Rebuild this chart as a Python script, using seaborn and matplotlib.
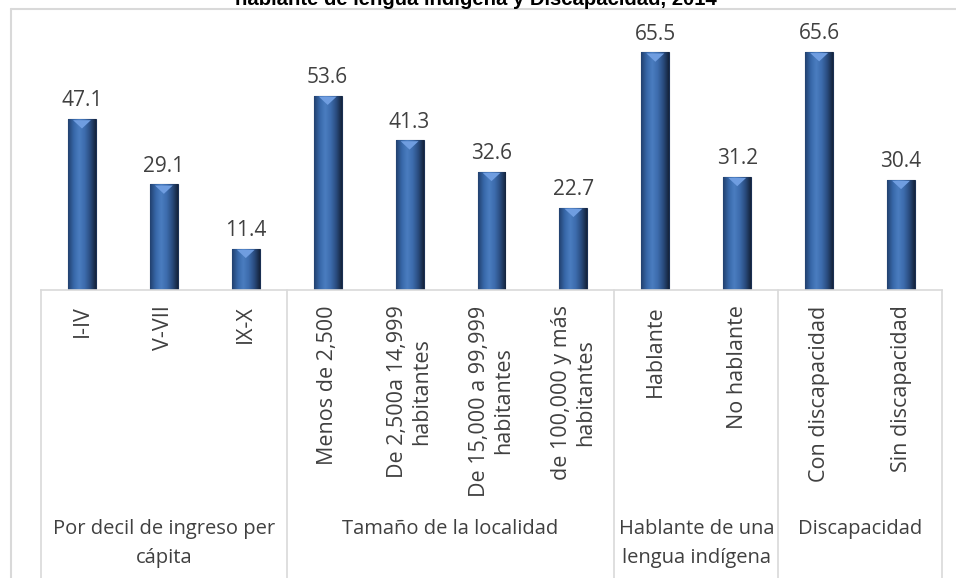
import numpy as np
import pandas as pd
import matplotlib
matplotlib.use("Agg")
import matplotlib.pyplot as plt
from matplotlib.colors import LinearSegmentedColormap
from matplotlib.lines import Line2D
from matplotlib.patches import Polygon
import seaborn as sns

categories = ["I-IV", "V-VII", "IX-X",
              "Menos de 2,500", "De 2,500a 14,999\nhabitantes",
              "De 15,000 a 99,999\nhabitantes", "de 100,000 y más\nhabitantes",
              "Hablante", "No hablante",
              "Con discapacidad", "Sin discapacidad"]
values = [47.1, 29.1, 11.4, 53.6, 41.3, 32.6, 22.7, 65.5, 31.2, 65.6, 30.4]
group_names = ["Por decil de ingreso per\ncápita", "Tamaño de la localidad",
               "Hablante de una\nlengua indígena", "Discapacidad"]
group_sizes = [3, 4, 2, 2]
title = "hablante de lengua indígena y Discapacidad, 2014"

df = pd.DataFrame({"cat": categories, "val": values})

sns.set_style("white")
plt.rcParams["font.family"] = ["Open Sans", "DejaVu Sans"]
text_color = "#404040"
line_color = "#d9d9d9"

fig = plt.figure(figsize=(9.56, 5.78), dpi=100)
W, H = 956, 578
ax = fig.add_axes([41 / W, 1 - 290 / H, (942 - 41) / W, (290 - 36) / H])

sns.barplot(data=df, x="cat", y="val", order=categories, color="#3a69a8",
            width=0.34, ax=ax, edgecolor="#1a2f52", linewidth=0.8, saturation=1)

ax.set_xlim(-0.5, len(categories) - 0.5)
ax.set_ylim(0, 70)
ax.set_xlabel("")
ax.set_ylabel("")
ax.set_yticks([])
for s in ["left", "right", "top"]:
    ax.spines[s].set_visible(False)
ax.spines["bottom"].set_color(line_color)
ax.spines["bottom"].set_linewidth(1.2)
ax.tick_params(axis="x", length=0, pad=11, labelsize=15.5, labelcolor=text_color)
for lbl in ax.get_xticklabels():
    lbl.set_rotation(90)
    lbl.set_multialignment("center")

# gradient fill + bevel triangle on each bar
cmap = LinearSegmentedColormap.from_list(
    "bevel", ["#22416f", "#3767a8", "#4a7dc0", "#3d6cad", "#2a4d80", "#15243d"])
grad = np.linspace(0, 1, 64).reshape(1, -1)
for p in ax.patches:
    x0, y0 = p.get_x(), p.get_y()
    w, h = p.get_width(), p.get_height()
    im = ax.imshow(grad, cmap=cmap, aspect="auto", extent=[x0, x0 + w, y0, y0 + h],
                   zorder=p.get_zorder() + 0.1)
    im.set_clip_path(p)
    tri_h = 2.6
    tri = Polygon([[x0 + w * 0.18, y0 + h - 0.3], [x0 + w * 0.82, y0 + h - 0.3],
                   [x0 + w * 0.5, y0 + h - tri_h]], closed=True,
                  facecolor="#6f9de0", edgecolor="none", zorder=p.get_zorder() + 0.2)
    ax.add_patch(tri)
ax.set_xlim(-0.5, len(categories) - 0.5)
ax.set_ylim(0, 70)

ax.bar_label(ax.containers[0], fmt="%.1f", padding=5.5, fontsize=15, color=text_color)

# group separators and labels
bounds = np.concatenate([[0], np.cumsum(group_sizes)]) - 0.5
trans = ax.get_xaxis_transform()
for b in bounds:
    ax.plot([b, b], [0, -1.3], transform=trans, color=line_color, lw=1.2, clip_on=False)
for i, name in enumerate(group_names):
    cx = (bounds[i] + bounds[i + 1]) / 2
    ax.text(cx, -(519 - 290) / (290 - 36), name, transform=trans, ha="center", va="top",
            fontsize=14.5, color=text_color, linespacing=1.6)

# outer chart frame
fig.add_artist(Line2D([11 / W, 11 / W], [0, 1 - 9 / H], color=line_color, lw=1.5))
fig.add_artist(Line2D([11 / W, 1], [1 - 9 / H, 1 - 9 / H], color=line_color, lw=1.5))

fig.text(476 / W, 1 - 5 / H, title, ha="center", va="baseline", fontsize=14.6,
         fontweight="bold", family=["Liberation Sans", "DejaVu Sans"], color="#000000")

fig.savefig("out.png", dpi=100)
